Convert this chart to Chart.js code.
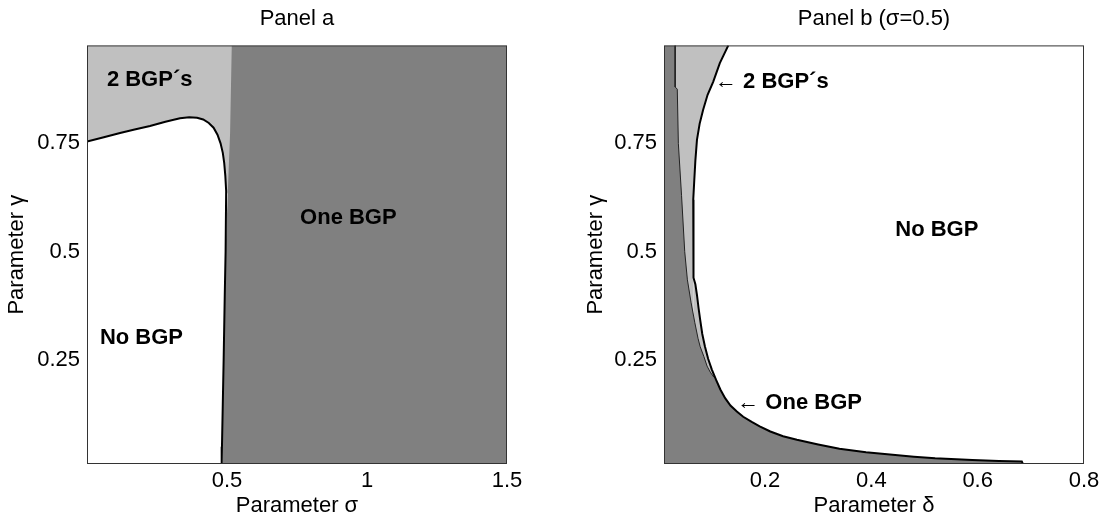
<!DOCTYPE html>
<html>
<head>
<meta charset="utf-8">
<script src="https://cdn.jsdelivr.net/npm/chart.js@4"></script>
<style>
  body { margin: 0; background: #fff; }
  #wrap { position: relative; width: 1104px; height: 529px; }
  canvas { position: absolute; top: 0; }
</style>
</head>
<body>
<div id="wrap">
  <canvas id="panelA" width="552" height="529" style="left:0"></canvas>
  <canvas id="panelB" width="552" height="529" style="left:552px"></canvas>
</div>
<script>
// tick values / labels
const sigmaTicks = [0.5, 1, 1.5];
const sigmaTickLabels = ['0.5', '1', '1.5'];
const deltaTicks = [0.2, 0.4, 0.6, 0.8];
const deltaTickLabels = ['0.2', '0.4', '0.6', '0.8'];
const gammaTicks = [0.25, 0.5, 0.75];
const gammaTickLabels = ['0.25', '0.5', '0.75'];

// Panel a: edge of the "No BGP" region (black line)
const aEdgeSigma = [0, 0.06, 0.118, 0.17, 0.225, 0.28, 0.332, 0.365, 0.393, 0.415, 0.435, 0.452, 0.466, 0.477, 0.485, 0.49, 0.494, 0.497, 0.495, 0.492, 0.488, 0.485, 0.482, 0.481];
const aEdgeGamma = [0.754, 0.764, 0.774, 0.782, 0.79, 0.8, 0.808, 0.81, 0.809, 0.805, 0.797, 0.786, 0.77, 0.75, 0.728, 0.705, 0.675, 0.64, 0.5, 0.4, 0.25, 0.15, 0.05, 0.01];
// Panel a: lower edge of the "2 BGP's" region (filled to top)
const aTwoSigma = [0, 0.06, 0.118, 0.17, 0.225, 0.28, 0.332, 0.365, 0.393, 0.415, 0.435, 0.452, 0.466, 0.477, 0.485, 0.49, 0.494, 0.499, 0.53];
const aTwoGamma = [0.754, 0.764, 0.774, 0.782, 0.79, 0.8, 0.808, 0.81, 0.809, 0.805, 0.797, 0.786, 0.77, 0.75, 0.728, 0.705, 0.675, 0.638, 0.6];
// Panel a: left edge of the "One BGP" region (filled to bottom)
const aOneSigma = [0.483, 0.488, 0.495, 0.503, 0.511, 0.517, 1.5];
const aOneGamma = [0.01, 0.27, 0.5, 0.64, 0.774, 0.976, 0.976];

// Panel b: edge of the "No BGP" region (black line)
const bEdgeDelta = [0.131, 0.115, 0.1025, 0.092, 0.0835, 0.077, 0.072, 0.069, 0.067, 0.065, 0.065, 0.066, 0.069, 0.072, 0.075, 0.078, 0.082, 0.087, 0.093, 0.1, 0.108, 0.116, 0.125, 0.135, 0.147, 0.159, 0.175, 0.19, 0.21, 0.234, 0.26, 0.3, 0.34, 0.39, 0.435, 0.48, 0.52, 0.59, 0.64, 0.683, 0.685];
const bEdgeGamma = [0.976, 0.935, 0.892, 0.862, 0.827, 0.795, 0.758, 0.71, 0.666, 0.62, 0.47, 0.44, 0.425, 0.4, 0.37, 0.343, 0.31, 0.281, 0.253, 0.228, 0.204, 0.182, 0.162, 0.145, 0.131, 0.119, 0.107, 0.097, 0.085, 0.074, 0.066, 0.055, 0.045, 0.037, 0.032, 0.027, 0.023, 0.019, 0.017, 0.016, 0.01];
// Panel b: "2 BGP's" region, upper part (filled to top) and lower part (filled to bottom)
const bTwoTopDelta = [0.01, 0.065, 0.065, 0.067, 0.069, 0.072, 0.077, 0.0835, 0.092, 0.1025, 0.115, 0.131];
const bTwoTopGamma = [0.01, 0.01, 0.62, 0.666, 0.71, 0.758, 0.795, 0.827, 0.862, 0.892, 0.935, 0.976];
const bTwoLowDelta = [0.065, 0.065, 0.066, 0.069, 0.072, 0.075, 0.078, 0.082, 0.087, 0.093, 0.1, 0.108, 0.116];
const bTwoLowGamma = [0.62, 0.47, 0.44, 0.425, 0.4, 0.37, 0.343, 0.31, 0.281, 0.253, 0.228, 0.204, 0.182];
// Panel b: edge of the "One BGP" region (filled to bottom)
const bOneDelta = [0.01, 0.031, 0.031, 0.035, 0.037, 0.043, 0.049, 0.054, 0.061, 0.068, 0.074, 0.078, 0.085, 0.091, 0.097, 0.104, 0.108, 0.116, 0.125, 0.135, 0.147, 0.159, 0.175, 0.19, 0.21, 0.234, 0.26, 0.3, 0.34, 0.39, 0.435, 0.48, 0.52, 0.59, 0.64, 0.683, 0.685];
const bOneGamma = [0.976, 0.976, 0.88, 0.875, 0.75, 0.63, 0.5, 0.435, 0.382, 0.336, 0.3, 0.281, 0.258, 0.236, 0.222, 0.21, 0.204, 0.182, 0.162, 0.145, 0.131, 0.119, 0.107, 0.097, 0.085, 0.074, 0.066, 0.055, 0.045, 0.037, 0.032, 0.027, 0.023, 0.019, 0.017, 0.016, 0.01];

const FONT = '"Liberation Sans", Arial, Helvetica, sans-serif';
const LIGHT = '#c0c0c0';
const DARK = '#808080';

function pts(xs, ys) {
  return xs.map((x, i) => ({x: x, y: ys[i]}));
}

// frame round the plot area + region labels
const framePlugin = {
  id: 'frame',
  afterDatasetsDraw(chart, args, opts) {
    const {ctx, chartArea: a, scales} = chart;
    ctx.save();
    ctx.strokeStyle = '#333';
    ctx.lineWidth = 1;
    ctx.strokeRect(a.left + 0.5, a.top + 0.5, a.right - a.left - 1, a.bottom - a.top - 1);
    ctx.fillStyle = '#000';
    ctx.textBaseline = 'middle';
    (opts.notes || []).forEach(n => {
      let x = scales.x.getPixelForValue(n.x);
      const y = scales.y.getPixelForValue(n.y);
      if (n.arrow) {
        ctx.font = '22px ' + FONT;
        ctx.fillText('\u2190', x, y);
        x += 28;
      }
      ctx.font = 'bold 22px ' + FONT;
      ctx.fillText(n.text, x, y);
    });
    ctx.restore();
  }
};

function makePanel(id, p) {
  const font = {family: FONT, size: 22, weight: 'normal'};
  return new Chart(document.getElementById(id), {
    type: 'line',
    data: {datasets: p.datasets},
    plugins: [framePlugin],
    options: {
      responsive: false,
      animation: false,
      events: [],
      layout: {padding: {left: 0, top: 0, right: p.padRight, bottom: 0}},
      elements: {point: {radius: 0}, line: {tension: 0}},
      plugins: {
        legend: {display: false},
        tooltip: {enabled: false},
        title: {display: true, text: p.title, fullSize: false, color: '#000', font: font, padding: {top: 6, bottom: 13}},
        frame: {notes: p.notes}
      },
      scales: {
        x: {
          type: 'linear', min: p.xMin, max: p.xMax,
          afterBuildTicks: ax => { ax.ticks = p.xTicks.map(v => ({value: v})); },
          afterFit: ax => { ax.height = 65; },
          ticks: {callback: (v, i) => p.xLabels[i], color: '#000', font: font, padding: 4, maxRotation: 0, autoSkip: false},
          grid: {display: false, drawTicks: false},
          border: {display: false},
          title: {display: true, text: p.xTitle, color: '#000', font: font, padding: {top: 0, bottom: 10}}
        },
        y: {
          type: 'linear', min: 0.01, max: 0.976,
          afterBuildTicks: ax => { ax.ticks = gammaTicks.map(v => ({value: v})); },
          afterFit: ax => { ax.width = p.yWidth; },
          ticks: {callback: (v, i) => gammaTickLabels[i], color: '#000', font: font, padding: 7, autoSkip: false},
          grid: {display: false, drawTicks: false},
          border: {display: false},
          title: {display: true, text: 'Parameter \u03b3', color: '#000', font: font, padding: {top: p.yTitlePad, bottom: 0}}
        }
      }
    }
  });
}

makePanel('panelA', {
  title: 'Panel a',
  xTitle: 'Parameter \u03c3',
  xMin: 0, xMax: 1.5,
  xTicks: sigmaTicks, xLabels: sigmaTickLabels,
  yWidth: 87, yTitlePad: 4, padRight: 45,
  notes: [
    {text: '2 BGP\u00b4s', x: 0.071, y: 0.896},
    {text: 'One BGP', x: 0.761, y: 0.578},
    {text: 'No BGP', x: 0.046, y: 0.302}
  ],
  datasets: [
    {data: pts(aEdgeSigma, aEdgeGamma), borderColor: '#000', borderWidth: 2, fill: false, order: 0},
    {data: pts(aOneSigma, aOneGamma), borderColor: 'transparent', borderWidth: 0, backgroundColor: DARK, fill: 'start', order: 1},
    {data: pts(aTwoSigma, aTwoGamma), borderColor: 'transparent', borderWidth: 0, backgroundColor: LIGHT, fill: 'end', order: 2}
  ]
});

makePanel('panelB', {
  title: 'Panel b (\u03c3=0.5)',
  xTitle: 'Parameter \u03b4',
  xMin: 0.01, xMax: 0.8,
  xTicks: deltaTicks, xLabels: deltaTickLabels,
  yWidth: 112, yTitlePad: 31, padRight: 20,
  notes: [
    {text: '2 BGP\u00b4s', x: 0.106, y: 0.892, arrow: true},
    {text: 'No BGP', x: 0.445, y: 0.551},
    {text: 'One BGP', x: 0.148, y: 0.152, arrow: true}
  ],
  datasets: [
    {data: pts(bEdgeDelta, bEdgeGamma), borderColor: '#000', borderWidth: 2, fill: false, order: 0},
    {data: pts(bOneDelta.slice(1, 16), bOneGamma.slice(1, 16)), borderColor: '#222', borderWidth: 1, fill: false, order: 1},
    {data: pts(bOneDelta, bOneGamma), borderColor: 'transparent', borderWidth: 0, backgroundColor: DARK, fill: 'start', order: 2},
    {data: pts(bTwoTopDelta, bTwoTopGamma), borderColor: 'transparent', borderWidth: 0, backgroundColor: LIGHT, fill: 'end', order: 3},
    {data: pts(bTwoLowDelta, bTwoLowGamma), borderColor: 'transparent', borderWidth: 0, backgroundColor: LIGHT, fill: 'start', order: 4}
  ]
});
</script>
</body>
</html>
